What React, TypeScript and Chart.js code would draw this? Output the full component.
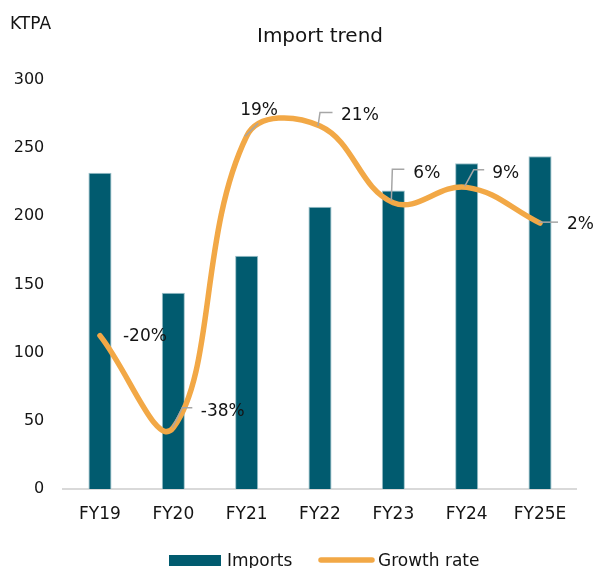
import React, { useEffect, useRef } from "react";
import { Chart, registerables } from "chart.js";

Chart.register(...registerables);

const categories = ["FY19", "FY20", "FY21", "FY22", "FY23", "FY24", "FY25E"];
const imports = [232, 144, 171, 207, 219, 239, 244];
const growthRate = [-20, -38, 19, 21, 6, 9, 2];
const growthLabels = ["-20%", "-38%", "19%", "21%", "6%", "9%", "2%"];
const yTicks = [0, 50, 100, 150, 200, 250, 300];

const TITLE = "Import trend";
const UNIT = "KTPA";
const BAR_COLOR = "#015b6f";
const LINE_COLOR = "#f2a846";
const FONT = "'DejaVu Sans', sans-serif";
const TEXT_COLOR = "#141414";

// label layout: text offset [dx, dy(baseline)] and leader path relative to the point
const labelLayout: { text: [number, number]; leader: [number, number][] }[] = [
  { text: [23, 5.5], leader: [] },
  { text: [27.5, -11.5], leader: [[-1, 0], [9, -20], [19, -20]] },
  { text: [-6.5, -21], leader: [[-1.5, 0], [11.5, -13]] },
  { text: [21, -6], leader: [[-2, 0], [0, -13.5], [12.5, -13.5]] },
  { text: [20, -25], leader: [[-2, -2], [-1, -33.5], [11, -33.5]] },
  { text: [25.5, -9], leader: [[-2, -1], [7, -17.5], [17.5, -17.5]] },
  { text: [27, 6], leader: [[-1.5, -1], [18, -1]] },
];

const decorPlugin = {
  id: "decor",
  afterDatasetsDraw(chart: any) {
    const ctx = chart.ctx;
    const area = chart.chartArea;
    ctx.save();
    // data labels with leader lines
    const meta = chart.getDatasetMeta(1);
    meta.data.forEach((pt: any, i: number) => {
      const lay = labelLayout[i];
      if (lay.leader.length > 1) {
        ctx.beginPath();
        ctx.strokeStyle = "#a6a6a6";
        ctx.lineWidth = 1.5;
        lay.leader.forEach(([dx, dy], j) => {
          if (j === 0) ctx.moveTo(pt.x + dx, pt.y + dy);
          else ctx.lineTo(pt.x + dx, pt.y + dy);
        });
        ctx.stroke();
      }
      ctx.fillStyle = TEXT_COLOR;
      ctx.font = `17px ${FONT}`;
      ctx.textAlign = "left";
      ctx.textBaseline = "alphabetic";
      ctx.fillText(growthLabels[i], pt.x + lay.text[0], pt.y + lay.text[1]);
    });
    // title
    ctx.fillStyle = TEXT_COLOR;
    ctx.font = `20px ${FONT}`;
    ctx.textAlign = "center";
    ctx.textBaseline = "alphabetic";
    ctx.fillText(TITLE, (area.left + area.right) / 2, 42);
    // unit
    ctx.font = `17px ${FONT}`;
    ctx.textAlign = "left";
    ctx.fillText(UNIT, 10, 29);
    // legend
    const ly = 560;
    ctx.fillStyle = BAR_COLOR;
    ctx.fillRect(169, ly - 5, 52, 11);
    ctx.fillStyle = TEXT_COLOR;
    ctx.font = `17px ${FONT}`;
    ctx.fillText(chart.data.datasets[0].label, 227, ly + 6);
    ctx.beginPath();
    ctx.strokeStyle = LINE_COLOR;
    ctx.lineWidth = 5.5;
    ctx.lineCap = "round";
    ctx.moveTo(321, ly);
    ctx.lineTo(372, ly);
    ctx.stroke();
    ctx.fillText(chart.data.datasets[1].label, 378, ly + 6);
    ctx.restore();
  },
};

export default function App() {
  const ref = useRef<HTMLCanvasElement | null>(null);
  useEffect(() => {
    if (!ref.current) return;
    const chart = new Chart(ref.current, {
      type: "bar",
      data: {
        labels: categories,
        datasets: [
          {
            type: "bar",
            label: "Imports",
            data: imports,
            backgroundColor: BAR_COLOR,
            borderColor: "#9cc0c9",
            borderWidth: 1,
            categoryPercentage: 1,
            barPercentage: 0.315,
            yAxisID: "y",
            order: 1,
          },
          {
            type: "line",
            label: "Growth rate",
            data: growthRate,
            borderColor: LINE_COLOR,
            borderWidth: 5.5,
            borderCapStyle: "round",
            tension: 0.4,
            pointRadius: 0,
            yAxisID: "y2",
            order: 0,
          } as any,
        ],
      },
      options: {
        animation: false,
        responsive: true,
        maintainAspectRatio: false,
        layout: { padding: { top: 80, right: 16.3, bottom: 46, left: 0 } },
        plugins: {
          legend: { display: false },
          title: { display: false },
          tooltip: { enabled: false },
        },
        scales: {
          x: {
            grid: { display: false, drawTicks: false },
            border: { display: true, color: "#d9d9d9", width: 2 },
            ticks: { color: TEXT_COLOR, font: { family: FONT, size: 17 }, padding: 15 },
            afterFit: (s: any) => { s.height = 33; },
          },
          y: {
            min: 0,
            max: 300,
            grid: { display: false, drawTicks: false },
            border: { display: false },
            afterBuildTicks: (s: any) => { s.ticks = yTicks.map((v) => ({ value: v })); },
            ticks: { color: TEXT_COLOR, font: { family: FONT, size: 16 }, padding: 19 },
            afterFit: (s: any) => { s.width = 63.3; },
          },
          y2: {
            display: false,
            min: -50,
            max: 30,
            position: "right",
          },
        },
      },
      plugins: [decorPlugin],
    });
    return () => chart.destroy();
  }, []);
  return (
    <div style={{ position: "absolute", left: 0, top: 0, width: 593, height: 568 }}>
      <canvas ref={ref} />
    </div>
  );
}
